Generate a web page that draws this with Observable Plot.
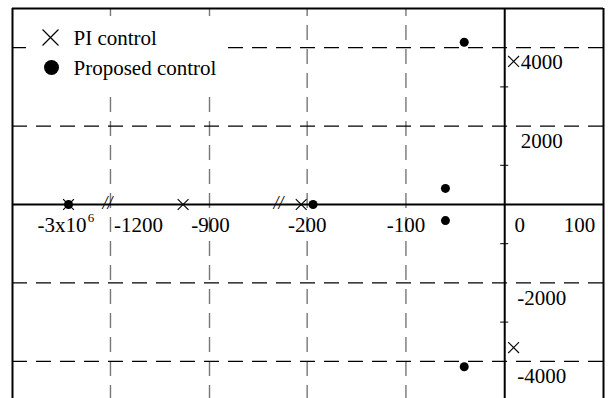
<!DOCTYPE html>
<html><head><meta charset="utf-8">
<script src="https://cdn.jsdelivr.net/npm/d3@7"></script>
<script src="https://cdn.jsdelivr.net/npm/@observablehq/plot@0.6"></script>
<style>html,body{margin:0;padding:0;background:#fff;overflow:hidden}</style>
</head><body><div id="chart"></div>
<script>
// PI control poles (real, imaginary)
const piRe = [-3e6, -980, -206, 9, 9];
const piIm = [0, 0, 0, 3650, -3650];
// Proposed control poles
const propRe = [-3e6, -194, -60, -60, -41, -41];
const propIm = [0, 0, 410, -410, 4140, -4140];
// Axis ticks / labels
const xTickValues = [-3e6, -1200, -900, -200, -100, 0, 100];
const xTickLabels = ["-3x10", "-1200", "-900", "-200", "-100", "0", "100"];
const yTickValues = [4000, 2000, -2000, -4000];
const yTickLabels = ["4000", "2000", "-2000", "-4000"];
const yMinorTicks = [3000, 1000, -1000, -3000];
const xGrid = [-1200, -900, -200, -100];
const yGrid = [4000, 2000, -2000, -4000];
const xBreaks = [-1e6, -500];
const legendLabels = ["PI control", "Proposed control"];

const pi = piRe.map((re, i) => ({re, im: piIm[i]}));
const prop = propRe.map((re, i) => ({re, im: propIm[i]}));
const xTicks = xTickValues.map((v, i) => ({v, label: xTickLabels[i]}));
const yTicks = yTickValues.map((v, i) => ({v, label: yTickLabels[i]}));

// label nudges (pixels) so labels avoid the axes
const xNudge = {"-3x10": -6.5, "-1200": 28, "-900": 1, "-200": 0, "-100": 0, "0": 15, "100": -24};
const font = "'Liberation Serif', 'Times New Roman', serif";

// white background box behind the legend (placed relative to the frame)
function legendBox(index, scales, values, dims) {
  const r = document.createElementNS("http://www.w3.org/2000/svg", "rect");
  r.setAttribute("x", dims.marginLeft + 14);
  r.setAttribute("y", dims.marginTop + 8);
  r.setAttribute("width", 202);
  r.setAttribute("height", 75);
  r.setAttribute("fill", "#fff");
  return r;
}

const chart = Plot.plot({
  width: 608,
  height: 398,
  marginLeft: 12, marginRight: 5, marginTop: 8, marginBottom: 0,
  style: {fontFamily: font, background: "#fff"},
  x: {type: "linear", domain: [-3.5e6, -2.652e6, -1209, -691, -229, 100], range: [12, 107, 107, 278, 278, 603], axis: null},
  y: {domain: [-5000, 5000], range: [400, 8], axis: null},
  marks: [
    // grid
    Plot.ruleX(xGrid, {x: d => d, y1: -5000, y2: 5000, stroke: "#777", strokeWidth: 1.4, strokeDasharray: "15,9"}),
    Plot.ruleY(yGrid, {y: d => d, x1: -3.5e6, x2: 100, stroke: "#000", strokeWidth: 1.2, strokeDasharray: "15,9"}),
    legendBox,
    // axes
    Plot.ruleY([0], {y: d => d, x1: -3.5e6, x2: 100, stroke: "#000", strokeWidth: 2}),
    Plot.ruleX([0], {x: d => d, y1: -5000, y2: 5000, stroke: "#000", strokeWidth: 2}),
    Plot.ruleY(yMinorTicks, {y: d => d, x1: 0, x2: 0, insetLeft: -4, insetRight: -4, stroke: "#000", strokeWidth: 1}),
    // frame
    Plot.ruleX([-3.5e6, 100], {x: d => d, y1: -5000, y2: 5000, stroke: "#000", strokeWidth: 2}),
    Plot.ruleY([5000], {y: d => d, x1: -3.5e6, x2: 100, stroke: "#000", strokeWidth: 2}),
    // axis breaks
    Plot.text(xBreaks, {x: d => d, y: 0, text: () => "//", fontSize: 18, fontStyle: "italic", fill: "#000", lineAnchor: "middle", dy: -1}),
    // tick labels
    ...xTicks.map(t => Plot.text([t], {x: "v", y: 0, text: "label", dx: xNudge[t.label], dy: 21, fontSize: 21, fill: "#000", lineAnchor: "middle"})),
    Plot.text(xTicks.filter(d => d.label === "-3x10"), {x: "v", y: 0, text: () => "6", dx: 22.5, dy: 13, fontSize: 13, fill: "#000", lineAnchor: "middle"}),
    Plot.text(yTicks, {x: 0, y: "v", text: "label", dx: 37, dy: 15, fontSize: 21, fill: "#000", lineAnchor: "middle"}),
    // data
    Plot.dot(prop, {x: "re", y: "im", r: 4.5, fill: "#000", stroke: "none"}),
    Plot.dot(pi, {x: "re", y: "im", symbol: "times", r: 5, stroke: "#000", strokeWidth: 1.1}),
    // legend
    Plot.dot([legendLabels[0]], {frameAnchor: "top-left", dx: 38, dy: 29, symbol: "times", r: 7.3, stroke: "#000", strokeWidth: 1.2}),
    Plot.dot([legendLabels[1]], {frameAnchor: "top-left", dx: 39, dy: 59, r: 7.5, fill: "#000", stroke: "none"}),
    Plot.text([legendLabels[0]], {frameAnchor: "top-left", dx: 61, dy: 30, text: d => d, textAnchor: "start", lineAnchor: "middle", fontSize: 21, fill: "#000"}),
    Plot.text([legendLabels[1]], {frameAnchor: "top-left", dx: 61, dy: 60, text: d => d, textAnchor: "start", lineAnchor: "middle", fontSize: 21, fill: "#000"})
  ]
});
document.getElementById("chart").appendChild(chart);
</script>
</body></html>
